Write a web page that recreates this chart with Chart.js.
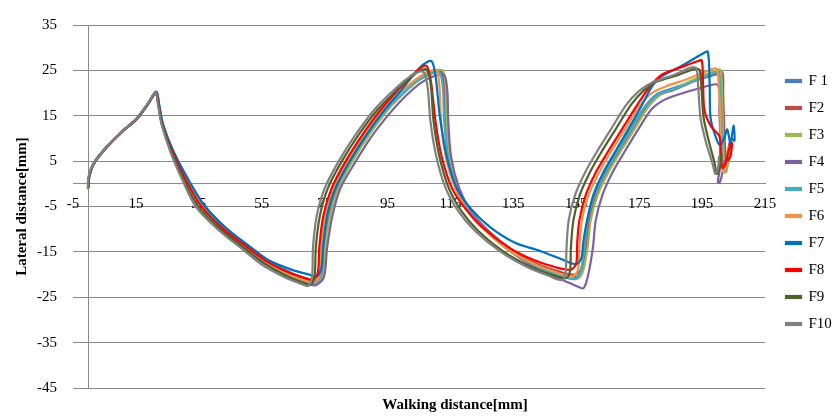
<!DOCTYPE html>
<html>
<head>
<meta charset="utf-8">
<script src="https://cdn.jsdelivr.net/npm/chart.js@4"></script>
<style>
  html, body { margin: 0; padding: 0; background: #ffffff; }
  canvas { display: block; }
</style>
</head>
<body>
<canvas id="chart" width="834" height="418"></canvas>
<script>
// Trajectory names, colours and axis ticks
const seriesNames = ['F 1', 'F2', 'F3', 'F4', 'F5', 'F6', 'F7', 'F8', 'F9', 'F10'];
const seriesColors = ['#4a7ebb', '#be4b48', '#98b954', '#7d60a0', '#46aac5',
                      '#f69240', '#0070c0', '#ff0000', '#4f6228', '#808080'];
const xTicks = [-5, 15, 35, 55, 75, 95, 115, 135, 155, 175, 195, 215];
const yTicks = [-45, -35, -25, -15, -5, 5, 15, 25, 35];
const xTitle = 'Walking distance[mm]';
const yTitle = 'Lateral distance[mm]';

// [walking distance, lateral distance] samples for each trajectory
const f1 = [[-0.1,-0.9],[0.2,1.6],[1.8,4.6],[5.8,8.1],[10.8,11.6],[15.3,14.3],[18.6,17.3],[20.8,19.7],[21.6,20.2],
  [22.3,17.5],[23.5,13],[27,7],[32,0.5],[37,-5],[44,-10],[52,-14.3],[58,-17.3],[65,-19.8],[71,-21.2],[72.8,-21.4],
  [74.3,-19.5],[75,-14],[76.3,-7],[78.8,-1],[83.3,5],[88.8,11],[94.8,16.3],[99.8,19.8],[104.3,22.5],[109,24.3],[112,24.5],
  [113,21],[113.4,14],[114.7,6],[117.5,-1],[121.5,-6],[127,-10.3],[135,-14.8],[143,-18],[150,-19.7],[155,-20.5],
  [156.8,-19],[157.8,-14],[158.6,-8],[160.8,-2.5],[164,2.5],[167.7,7],[172.2,12],[176.8,17],[180.8,19.8],[185.5,21],[192,22.6],[198,23.8],[200.5,24],
  [201,20],[201.4,13],[201.6,7],[202,3.5],[202.6,3.5],[203.3,6.5],[203.7,9],[203.2,7]];

const f2 = [[-0.2,-1],[0.1,1.5],[1.6,4.5],[5.6,8],[10.6,11.5],[15.1,14.2],[18.4,17.2],[20.6,19.6],[21.4,20.2],
  [22.2,17.5],[23.4,13],[26.8,7],[31.5,0.5],[36.5,-5],[43.5,-10.1],[51.5,-14.5],[57.5,-17.6],[64.5,-20.1],[70.5,-21.5],[72.2,-21.7],
  [74.3,-19.8],[74.9,-14],[76.5,-7],[79.1,-1],[83.6,5],[89.1,11],[95,16.4],[100,20],[104.5,22.8],[109,24.6],[112,25],
  [113,21.5],[113.4,14],[114.5,6],[117.2,-1],[121,-6],[126.5,-10.2],[134.5,-14.6],[142.5,-17.6],[149.5,-19.3],[154.6,-20],
  [156.5,-18.8],[158.1,-14],[159.1,-8],[161.3,-2.5],[164.8,2.5],[168.5,7],[173,12],[177.5,17],[181.5,19.6],[186,20.7],[193,22.8],[199,24.3],[201.4,24.6],
  [201.7,20],[202,13],[202.3,8],[202.6,4],[203.2,4.2],[203.8,7],[204,9.5],[203.6,7.5]];

const f3 = [[-0.2,-1.1],[0.1,1.5],[1.6,4.5],[5.6,8],[10.6,11.5],[15.1,14.2],[18.4,17.2],[20.6,19.6],[21.4,20.2],
  [22.2,17.5],[23.4,13],[26.7,7],[31.3,0.5],[36.2,-5],[43.2,-10.2],[51.2,-14.6],[57.2,-17.8],[64.2,-20.4],[70.2,-21.8],[72,-22],
  [74.5,-20.2],[75.2,-14],[76.8,-7],[79.4,-1],[83.9,5],[89.4,11],[95.3,16.4],[100.3,20],[104.8,22.8],[109.5,24.7],[112.5,25],
  [113.5,21.5],[113.8,14],[114.8,6],[117.3,-1],[121,-6],[126.5,-10.5],[134.5,-15],[142.5,-18.3],[149.5,-20.2],[155,-21],
  [157,-19.6],[158.6,-14],[159.6,-8],[161.8,-2.5],[165.2,2.5],[169,7],[173.5,12],[178,17],[182,19.8],[186.5,21],[193,23.2],[198.8,24.8],[200.8,25.1],
  [201.3,20],[201.6,13],[201.8,7.5],[202,3],[202.7,2.6],[203.4,5.5],[203.8,8],[203.3,6.5]];

const f4 = [[-0.2,-1.1],[0.1,1.4],[1.6,4.4],[5.6,7.9],[10.6,11.4],[15.1,14.1],[18.4,17.1],[20.6,19.5],[21.4,20.1],
  [22.2,17.4],[23.4,12.8],[26.8,6.8],[31.5,0.3],[36.5,-5.2],[43.5,-10.6],[51.5,-15],[57.5,-18.2],[64.5,-20.8],[70.5,-22.2],[72.3,-22.3],
  [74.8,-20.5],[75.8,-14],[77.5,-7],[80,-1],[84.5,4.5],[90,10.5],[96,15.8],[101,19.5],[105.5,22.2],[110,23.8],[113,24],
  [114,20.5],[114.3,14],[115.2,6],[117.8,-1],[121.5,-6],[127,-10.7],[135,-15.4],[143,-18.8],[150,-21],[155,-22.5],
  [157.3,-23],[158.8,-20],[160.3,-14],[161.2,-8],[163.3,-2.5],[166.5,2.5],[170.3,7],[174.7,12],[179,16.5],[183,18.5],[188,19.8],[194,21],[200,21.8],
  [200.5,16],[200.8,9],[200.6,3],[200,0.5],[200.5,0.2],[201.5,2.5],[202,5],[201.6,3.5]];

const f5 = [[-0.2,-1],[0.1,1.5],[1.6,4.5],[5.6,8],[10.6,11.5],[15.1,14.2],[18.4,17.2],[20.6,19.6],[21.4,20.2],
  [22.2,17.5],[23.4,13],[26.8,7],[31.5,0.5],[36.5,-5],[43.5,-10.2],[51.5,-14.6],[57.5,-17.7],[64.5,-20.2],[70.5,-21.6],[72.2,-21.8],
  [73.8,-20],[74.4,-14],[75.9,-7],[78.5,-1],[83,5],[88.5,11],[94.5,16.3],[99.5,19.8],[104,22.5],[108.5,24.2],[111.5,24.5],
  [112.6,21],[113,14],[114.2,6],[117,-1],[121,-6],[126.5,-10.5],[134.5,-15],[142.5,-18.3],[149.5,-20.2],[154.5,-21],
  [156.3,-19.6],[157.6,-14],[158.6,-8],[160.8,-2.5],[164.3,2.5],[168,7],[172.5,12],[177,17],[181,19.6],[186,20.8],[192,22.5],[198,24.2],[200.2,24.6],
  [200.8,20],[201.2,13],[201.3,7],[201.6,3],[202.3,2.8],[203,5],[203.4,7.5],[202.8,6]];

const f6 = [[-0.2,-1],[0.1,1.6],[1.7,4.6],[5.7,8.1],[10.7,11.6],[15.2,14.3],[18.5,17.3],[20.7,19.7],[21.5,20.2],
  [22.2,17.5],[23.4,13],[26.6,7],[31.2,0.5],[36,-5],[43,-10],[51,-14.3],[57,-17.4],[64,-20],[70,-21.5],[71.8,-21.7],
  [73.4,-19.8],[73.8,-14],[75.1,-7],[77.7,-1],[82.2,5],[87.7,11],[93.7,16.5],[98.7,20],[103.2,22.6],[107.5,24.6],[110.5,25],
  [111.5,21.5],[112,14],[113.5,6],[116.5,-1],[120.5,-6],[126,-10.3],[134,-14.8],[142,-17.8],[149,-19.6],[153.8,-20.4],
  [155.5,-19],[156,-14],[156.8,-8],[158.9,-2.5],[162.3,2.5],[166,7],[170.5,12],[175,17],[179,20],[183.2,21.4],[190,23],[196.5,24.8],[199.6,25.4],
  [200.3,21],[200.8,14],[201,8],[201.4,3.5],[202,2.5],[203,5],[203.5,8],[202.8,6.5]];

const f7 = [[-0.1,-0.8],[0.2,1.7],[1.8,4.7],[5.8,8.2],[10.8,11.7],[15.3,14.3],[18.6,17.3],[20.8,19.7],[21.7,20.2],
  [22.4,17.5],[23.7,13],[27,7],[32,0.5],[37,-5],[44,-10],[51.5,-14],[57,-16.8],[64,-18.8],[70,-20],[72.5,-20.4],
  [74,-18.5],[74.5,-14],[75.8,-7],[78.4,-1],[83,5],[88.5,11],[94.3,16.5],[99,20.3],[103,23.8],[106.2,26.2],[109,27],
  [110.3,23.5],[111.6,15],[113.8,6],[117,-1],[121.5,-5.5],[127.5,-9.5],[135.5,-13],[143.5,-14.8],[150,-16.5],[154.8,-17.7],
  [156.6,-16.5],[157.2,-13],[158.3,-8.5],[160.4,-2.5],[163.6,2.5],[167.3,7],[171.5,12],[175.6,17],[178.5,20.8],[181,23.2],[188,25.8],[195,28.6],[196.8,29.1],
  [197.4,22],[197.7,14.5],[199.5,10],[200.7,8.5],[202,10],[203,12],[204,9],[205,12.8],[205.3,9.5],[204.5,10]];

const f8 = [[-0.2,-0.9],[0.1,1.6],[1.7,4.6],[5.7,8.1],[10.7,11.6],[15.2,14.3],[18.5,17.3],[20.7,19.7],[21.5,20.2],
  [22.2,17.5],[23.4,13],[26.6,7],[31.1,0.5],[35.8,-5],[42.8,-10],[50.8,-14.2],[56.8,-17.2],[63.8,-19.6],[69.8,-21],[71.5,-21.2],
  [72.9,-19.3],[73.3,-14],[74.6,-7],[77.2,-1],[81.7,5],[87.2,11],[93,16.5],[97.8,20.2],[102,23.3],[105.2,25.4],[107.4,26],
  [108.8,22.5],[110.2,14],[112.2,6],[115.5,-1],[119.8,-5.5],[125.5,-9.8],[133.5,-14],[141.5,-16.8],[148.5,-18.4],[153.3,-18.9],
  [155,-17.5],[155.3,-13],[156,-8],[158,-2.5],[161.2,2.5],[165,7],[169.5,12],[174.5,17.5],[178.5,21.5],[182.5,24.2],[188,25.6],[193.5,27],[194.9,27.2],
  [195.3,22],[195.8,16],[198,12.5],[200.5,10.5],[201,6],[201.5,3.5],[202.5,4.5],[203.5,7.5],[204.5,9],[204,6],[203,5]];

const f9 = [[-0.2,-1],[0,1.5],[1.6,4.6],[5.6,8.1],[10.6,11.6],[15.1,14.3],[18.4,17.3],[20.6,19.7],[21.4,20.3],
  [22.1,17.5],[23.3,13],[26.3,7],[30.5,0.5],[34.8,-5],[41.8,-10],[49.8,-14.4],[55.8,-17.6],[62.8,-20.3],[68.8,-22],[70.5,-22.3],
  [71.8,-20.3],[72.2,-14],[73.5,-7],[76,-1],[80.5,5],[86,11],[92,16.5],[97,20],[101.5,22.9],[105,24.8],[107.5,25.1],
  [108.8,21.5],[109.6,14],[111.5,6],[114.5,-1],[118.5,-6],[124,-10.5],[132,-15],[140,-18.1],[147,-20],[151.8,-20.8],
  [153,-19.3],[153.3,-14],[154.1,-8],[156.1,-2.5],[159.3,2.5],[163,7],[167.5,12],[172.5,17.5],[176.5,20.6],[180.5,22.5],[187.5,24],[193,25.4],[194.3,25],
  [194.8,21],[195.5,14.5],[197.3,9],[199,4.5],[199.7,2.2],[200.6,3.5],[201.2,6.5],[200.8,5]];

const f10 = [[-0.3,-1.2],[-0.1,1.5],[1.5,4.5],[5.5,8],[10.5,11.5],[15,14.3],[18.3,17.2],[20.5,19.6],[21.3,20.3],
  [22,17.5],[23.2,13],[26,7],[30,0.5],[34,-5],[41,-10],[49,-14.5],[55,-17.8],[62,-20.5],[68,-22.2],[69.8,-22.5],
  [71,-20.5],[71.3,-14],[72.5,-7],[75,-1],[79.5,5],[85,11],[91,16.5],[96,20],[100.5,22.8],[104,24.5],[106.5,24.6],
  [107.8,21],[108.6,14],[110.5,6],[113.5,-1],[117.5,-6],[123,-10.5],[131,-15],[139,-18.2],[146,-20.2],[150.5,-21.2],
  [151.6,-19.5],[151.9,-14],[152.6,-8],[154.6,-2.5],[157.8,2.5],[161.5,7],[166,12],[171,17.5],[175,20.5],[179,22.3],[186,24],[191.5,25.6],[193.2,25.4],
  [193.8,21],[194.5,14.5],[196.3,9],[198.3,4.5],[199.2,2.2],[200,3.2],[200.4,6],[200.2,4.5]];

const seriesData = [f1, f2, f3, f4, f5, f6, f7, f8, f9, f10];

const serif = '"Liberation Serif", "Times New Roman", serif';
const gridGrey = '#8a8a8a';

// Walking-distance axis title, centred beneath the plot
const xTitlePlugin = {
  id: 'xTitle',
  afterDraw(chart) {
    const { ctx, chartArea } = chart;
    ctx.save();
    ctx.font = 'bold 15px ' + serif;
    ctx.fillStyle = '#000000';
    ctx.textAlign = 'center';
    ctx.textBaseline = 'middle';
    ctx.fillText(xTitle, chartArea.left + 382, chartArea.bottom + 17);
    ctx.restore();
  }
};

const datasets = seriesNames.map((name, i) => ({
  label: name,
  data: seriesData[i].map(([x, y]) => ({ x, y })),
  showLine: true,
  fill: false,
  borderColor: seriesColors[i],
  backgroundColor: seriesColors[i],
  borderWidth: 2.2,
  pointRadius: 0,
  pointHoverRadius: 0,
  tension: 0.3,
  order: seriesNames.length - i
}));

new Chart(document.getElementById('chart'), {
  type: 'scatter',
  data: { datasets },
  options: {
    responsive: false,
    animation: false,
    devicePixelRatio: 1,
    layout: { padding: { left: 7, top: 17, right: 0, bottom: 30 } },
    plugins: {
      legend: {
        position: 'right',
        reverse: true,
        maxWidth: 60,
        labels: {
          boxWidth: 15,
          boxHeight: 2,
          padding: 12,
          color: '#000000',
          font: { family: serif, size: 15 }
        }
      },
      tooltip: { enabled: false }
    },
    scales: {
      x: {
        type: 'linear',
        min: -5,
        max: 215,
        position: { y: 0 },
        afterBuildTicks: (scale) => { scale.ticks = xTicks.map(v => ({ value: v })); },
        grid: { display: false, drawTicks: false },
        border: { display: true, color: gridGrey, width: 1 },
        ticks: { color: '#000000', font: { family: serif, size: 15 }, padding: 11, maxRotation: 0, autoSkip: false }
      },
      y: {
        type: 'linear',
        min: -45,
        max: 35,
        position: 'left',
        afterBuildTicks: (scale) => { scale.ticks = yTicks.map(v => ({ value: v })); },
        afterFit: (scale) => { scale.width = 66; },
        grid: { display: true, color: gridGrey, lineWidth: 1, drawTicks: false },
        border: { display: false },
        ticks: { color: '#000000', font: { family: serif, size: 15 }, padding: 16 },
        title: { display: true, text: yTitle, color: '#000000', font: { family: serif, size: 15, weight: 'bold' }, padding: { top: 6, bottom: 6 } }
      },
      yAxisLine: {
        type: 'linear',
        min: -45,
        max: 35,
        position: { x: 0 },
        grid: { display: false, drawTicks: false },
        border: { display: true, color: gridGrey, width: 1 },
        ticks: { display: false }
      },
      legendGap: {
        type: 'linear',
        position: 'right',
        grid: { display: false, drawTicks: false },
        border: { display: false },
        ticks: { display: false },
        afterFit: (scale) => { scale.width = 9; }
      }
    }
  },
  plugins: [xTitlePlugin]
});
</script>
</body>
</html>
